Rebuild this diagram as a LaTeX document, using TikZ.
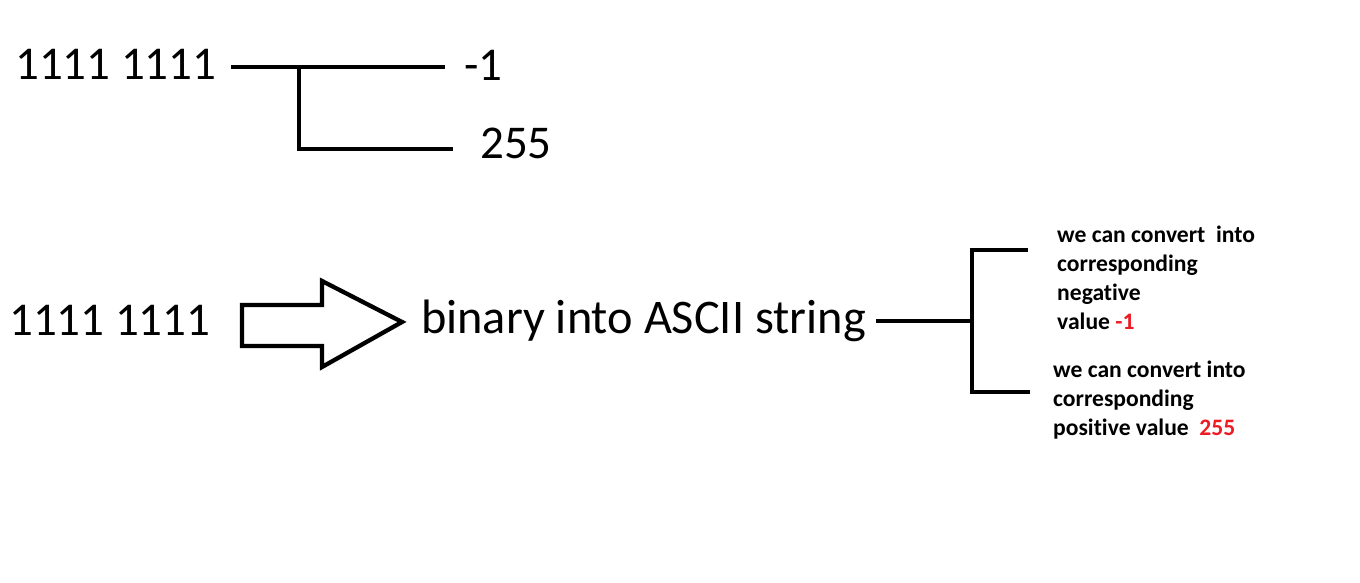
\documentclass[tikz,border=0pt]{standalone}
\usepackage{fontspec}
\setmainfont[Ligatures=NoCommon]{Carlito}
\definecolor{paintred}{RGB}{237,28,36}
\begin{document}
\begin{tikzpicture}[x=1pt,y=-1pt,
  big/.style={inner sep=0pt,font=\fontsize{47}{50}\selectfont},
  small/.style={inner sep=0pt,align=left,font=\bfseries\fontsize{23.6}{29}\selectfont},
  wire/.style={line width=4.3pt},
]
\useasboundingbox (0,0) rectangle (1360,582);
% top part
\node[big,anchor=base west] (a1) at (15,79) {1111 1111};
\node[big,anchor=base west] (m1) at (464,80) {-1};
\node[big,anchor=base west] (p1) at (480,158) {255};
\coordinate (a1s) at (231,67);
\coordinate (j1) at (299,67);
\coordinate (m1e) at (445,67);
\coordinate (p1e) at (453,149);
\draw[wire] (a1s) -- (m1e);
\draw[wire] (j1) |- (p1e);
% bottom part
\node[big,anchor=base west] (a2) at (9,335) {1111 1111};
\draw[line width=4.3pt,line join=miter]
  (242,305) -- (322,305) -- (322,281) -- (402,322) -- (322,367) -- (322,346) -- (242,346) -- cycle;
\node[big,anchor=base west,font=\fontsize{48.3}{50}\selectfont] (b) at (421,333) {binary into ASCII string};
\coordinate (bs) at (876,321);
\coordinate (j2) at (972,321);
\coordinate (u) at (1028,250);
\coordinate (l) at (1030,392);
\draw[wire] (bs) -- (j2);
\draw[wire] (u) -| (972,392) -- (l);
\node[small,anchor=north west] (t1) at (1057,226) {we can convert\ \ into\\corresponding\\negative\\value \textcolor{paintred}{-1}};
\node[small,anchor=north west] (t2) at (1053,361) {we can convert into\\corresponding\\positive value\ \ \textcolor{paintred}{255}};
\end{tikzpicture}
\end{document}
